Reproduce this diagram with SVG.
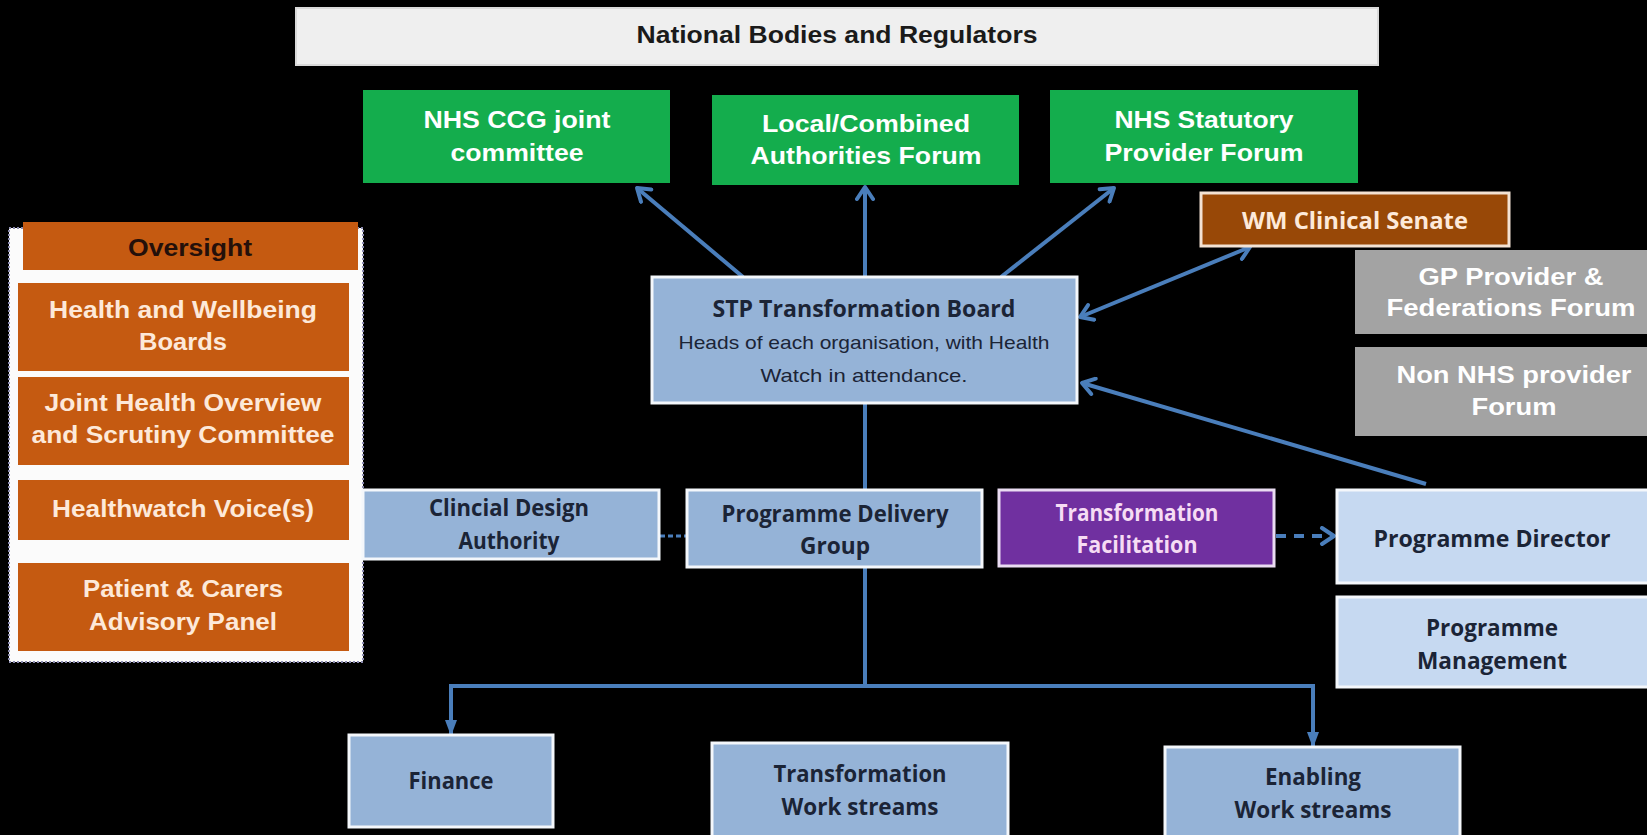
<svg xmlns="http://www.w3.org/2000/svg" width="1647" height="835" viewBox="0 0 1647 835">
  <defs>
    <marker id="openArrow" viewBox="0 0 20 20" markerWidth="20" markerHeight="20" refX="15" refY="10" orient="auto-start-reverse" markerUnits="userSpaceOnUse">
      <path d="M3,2 L15,10 L3,18" fill="none" stroke="#4a7ebb" stroke-width="4" stroke-linecap="round" stroke-linejoin="round"/>
    </marker>
    <marker id="solidArrow" viewBox="0 0 16 12" markerWidth="16" markerHeight="12" refX="15" refY="6" orient="auto" markerUnits="userSpaceOnUse">
      <path d="M0,0 L16,6 L0,12 z" fill="#4a7ebb"/>
    </marker>
    <style>
      .bg { fill: #000000; }
      .national { fill: #efefef; stroke: #d9d9d9; stroke-width: 2; }
      .green { fill: #14ad4d; }
      .senate { fill: #984807; stroke: #f3e2d3; stroke-width: 3; }
      .grey { fill: #a3a3a3; }
      .blue { fill: #95b3d7; stroke: #f4f7fb; stroke-width: 3; }
      .light { fill: #c6d9f1; stroke: #f4f7fb; stroke-width: 3; }
      .purple { fill: #7030a0; stroke: #eadcf2; stroke-width: 3; }
      .orange { fill: #c55a11; }
      .panel { fill: #fbfbfb; stroke: #8c8cb0; stroke-width: 2; stroke-dasharray: 2 2; }
      .arial { font-family: "Liberation Sans", Arial, sans-serif; font-weight: bold; text-anchor: middle; dominant-baseline: central; }
      .calibri { font-family: "Open Sans", "Liberation Sans", sans-serif; font-weight: 700; text-anchor: middle; dominant-baseline: central; }
      .regular { font-family: "Liberation Sans", Arial, sans-serif; font-weight: 400; text-anchor: middle; dominant-baseline: central; }
      .white { fill: #ffffff; }
      .cream { fill: #fde9d9; }
      .dark { fill: #1b2436; }
      .pink { fill: #f6dcf4; }
      .conn { stroke: #4a7ebb; stroke-width: 4; fill: none; }
      .dash { stroke-dasharray: 10 8; }
      .shortdash { stroke-dasharray: 5 3; stroke-width: 3; }
    </style>
  </defs>

  <rect class="bg" x="0" y="0" width="1647" height="835"/>

  <!-- connectors -->
  <g id="connectors">
    <line class="conn" x1="743" y1="277" x2="637" y2="188" marker-end="url(#openArrow)"/>
    <line class="conn" x1="865" y1="277" x2="865" y2="187" marker-end="url(#openArrow)"/>
    <line class="conn" x1="1001" y1="277" x2="1114" y2="188" marker-end="url(#openArrow)"/>
    <line class="conn" x1="1080" y1="317" x2="1250" y2="247" marker-start="url(#openArrow)" marker-end="url(#openArrow)"/>
    <line class="conn" x1="1426" y1="484" x2="1082" y2="383" marker-end="url(#openArrow)"/>
    <line class="conn" x1="865" y1="403" x2="865" y2="490"/>
    <line class="conn" x1="865" y1="567" x2="865" y2="686"/>
    <polyline class="conn" points="451,735 451,686 1313,686 1313,747"/>
    <line class="conn" x1="451" y1="700" x2="451" y2="735" marker-end="url(#solidArrow)"/>
    <line class="conn" x1="1313" y1="700" x2="1313" y2="747" marker-end="url(#solidArrow)"/>
    <line class="conn shortdash" x1="660" y1="536" x2="687" y2="536"/>
    <line class="conn dash" x1="1276" y1="536" x2="1334" y2="536" marker-end="url(#openArrow)"/>
  </g>

  <!-- national level -->
  <g id="national-bodies">
    <rect class="national" x="296" y="8" width="1082" height="57"/>
    <text class="arial" x="837" y="35" font-size="23" fill="#1a1a1a" textLength="401" lengthAdjust="spacingAndGlyphs">National Bodies and Regulators</text>
  </g>

  <g id="ccg-joint-committee">
    <rect class="green" x="363" y="90" width="307" height="93"/>
    <text class="arial white" x="517" y="119" font-size="24" textLength="187" lengthAdjust="spacingAndGlyphs">NHS CCG joint</text>
    <text class="arial white" x="517" y="152" font-size="24" textLength="133" lengthAdjust="spacingAndGlyphs">committee</text>
  </g>

  <g id="authorities-forum">
    <rect class="green" x="712" y="95" width="307" height="90"/>
    <text class="arial white" x="866" y="123" font-size="24" textLength="208" lengthAdjust="spacingAndGlyphs">Local/Combined</text>
    <text class="arial white" x="866" y="155" font-size="24" textLength="231" lengthAdjust="spacingAndGlyphs">Authorities Forum</text>
  </g>

  <g id="statutory-provider-forum">
    <rect class="green" x="1050" y="90" width="308" height="93"/>
    <text class="arial white" x="1204" y="119" font-size="24" textLength="179" lengthAdjust="spacingAndGlyphs">NHS Statutory</text>
    <text class="arial white" x="1204" y="152" font-size="24" textLength="199" lengthAdjust="spacingAndGlyphs">Provider Forum</text>
  </g>

  <g id="clinical-senate">
    <rect class="senate" x="1201" y="193" width="308" height="53"/>
    <text class="calibri cream" x="1355" y="220" font-size="23" textLength="226" lengthAdjust="spacingAndGlyphs">WM Clinical Senate</text>
  </g>

  <g id="gp-provider-forum">
    <rect class="grey" x="1355" y="250" width="292" height="84"/>
    <text class="arial white" x="1511" y="277" font-size="23" textLength="185" lengthAdjust="spacingAndGlyphs">GP Provider &amp;</text>
    <text class="arial white" x="1511" y="308" font-size="23" textLength="249" lengthAdjust="spacingAndGlyphs">Federations Forum</text>
  </g>

  <g id="non-nhs-provider-forum">
    <rect class="grey" x="1355" y="347" width="292" height="89"/>
    <text class="arial white" x="1514" y="375" font-size="23" textLength="235" lengthAdjust="spacingAndGlyphs">Non NHS provider</text>
    <text class="arial white" x="1514" y="407" font-size="23" textLength="85" lengthAdjust="spacingAndGlyphs">Forum</text>
  </g>

  <g id="stp-board">
    <rect class="blue" x="652" y="277" width="425" height="126"/>
    <text class="calibri dark" x="864" y="308" font-size="23" textLength="303" lengthAdjust="spacingAndGlyphs">STP Transformation Board</text>
    <text class="regular dark" x="864" y="342" font-size="19" textLength="371" lengthAdjust="spacingAndGlyphs">Heads of each organisation, with Health</text>
    <text class="regular dark" x="864" y="375" font-size="19" textLength="207" lengthAdjust="spacingAndGlyphs">Watch in attendance.</text>
  </g>

  <!-- oversight column -->
  <g id="oversight">
    <rect class="panel" x="9" y="228" width="354" height="434"/>
    <rect class="orange" x="23" y="222" width="335" height="48"/>
    <text class="arial" x="190" y="248" font-size="23" fill="#24100a" textLength="124" lengthAdjust="spacingAndGlyphs">Oversight</text>
  </g>

  <g id="health-wellbeing-boards">
    <rect class="orange" x="18" y="283" width="331" height="88"/>
    <text class="arial cream" x="183" y="310" font-size="23" textLength="268" lengthAdjust="spacingAndGlyphs">Health and Wellbeing</text>
    <text class="arial cream" x="183" y="342" font-size="23" textLength="88" lengthAdjust="spacingAndGlyphs">Boards</text>
  </g>

  <g id="scrutiny-committee">
    <rect class="orange" x="18" y="377" width="331" height="88"/>
    <text class="arial cream" x="183" y="403" font-size="23" textLength="277" lengthAdjust="spacingAndGlyphs">Joint Health Overview</text>
    <text class="arial cream" x="183" y="435" font-size="23" textLength="303" lengthAdjust="spacingAndGlyphs">and Scrutiny Committee</text>
  </g>

  <g id="healthwatch">
    <rect class="orange" x="18" y="480" width="331" height="60"/>
    <text class="arial cream" x="183" y="509" font-size="23" textLength="262" lengthAdjust="spacingAndGlyphs">Healthwatch Voice(s)</text>
  </g>

  <g id="patient-panel">
    <rect class="orange" x="18" y="563" width="331" height="88"/>
    <text class="arial cream" x="183" y="589" font-size="23" textLength="200" lengthAdjust="spacingAndGlyphs">Patient &amp; Carers</text>
    <text class="arial cream" x="183" y="622" font-size="23" textLength="188" lengthAdjust="spacingAndGlyphs">Advisory Panel</text>
  </g>

  <!-- delivery tier -->
  <g id="clinical-design-authority">
    <rect class="blue" x="363" y="490" width="296" height="69"/>
    <text class="calibri dark" x="509" y="507" font-size="23" textLength="160" lengthAdjust="spacingAndGlyphs">Clincial Design</text>
    <text class="calibri dark" x="509" y="540" font-size="23" textLength="101" lengthAdjust="spacingAndGlyphs">Authority</text>
  </g>

  <g id="programme-delivery-group">
    <rect class="blue" x="687" y="490" width="295" height="77"/>
    <text class="calibri dark" x="835" y="513" font-size="23" textLength="227" lengthAdjust="spacingAndGlyphs">Programme Delivery</text>
    <text class="calibri dark" x="835" y="545" font-size="23" textLength="70" lengthAdjust="spacingAndGlyphs">Group</text>
  </g>

  <g id="transformation-facilitation">
    <rect class="purple" x="999" y="490" width="275" height="76"/>
    <text class="calibri pink" x="1137" y="512" font-size="23" textLength="163" lengthAdjust="spacingAndGlyphs">Transformation</text>
    <text class="calibri pink" x="1137" y="544" font-size="23" textLength="121" lengthAdjust="spacingAndGlyphs">Facilitation</text>
  </g>

  <g id="programme-director">
    <rect class="light" x="1337" y="490" width="312" height="93"/>
    <text class="calibri dark" x="1492" y="537" font-size="24" textLength="237" lengthAdjust="spacingAndGlyphs">Programme Director</text>
  </g>

  <g id="programme-management">
    <rect class="light" x="1337" y="597" width="312" height="90"/>
    <text class="calibri dark" x="1492" y="626" font-size="24" textLength="132" lengthAdjust="spacingAndGlyphs">Programme</text>
    <text class="calibri dark" x="1492" y="659" font-size="24" textLength="150" lengthAdjust="spacingAndGlyphs">Management</text>
  </g>

  <!-- workstreams -->
  <g id="finance">
    <rect class="blue" x="349" y="735" width="204" height="92"/>
    <text class="calibri dark" x="451" y="780" font-size="23" textLength="85" lengthAdjust="spacingAndGlyphs">Finance</text>
  </g>

  <g id="transformation-workstreams">
    <rect class="blue" x="712" y="743" width="296" height="94"/>
    <text class="calibri dark" x="860" y="773" font-size="23" textLength="173" lengthAdjust="spacingAndGlyphs">Transformation</text>
    <text class="calibri dark" x="860" y="806" font-size="23" textLength="157" lengthAdjust="spacingAndGlyphs">Work streams</text>
  </g>

  <g id="enabling-workstreams">
    <rect class="blue" x="1165" y="747" width="295" height="90"/>
    <text class="calibri dark" x="1313" y="776" font-size="23" textLength="96" lengthAdjust="spacingAndGlyphs">Enabling</text>
    <text class="calibri dark" x="1313" y="809" font-size="23" textLength="157" lengthAdjust="spacingAndGlyphs">Work streams</text>
  </g>
</svg>
